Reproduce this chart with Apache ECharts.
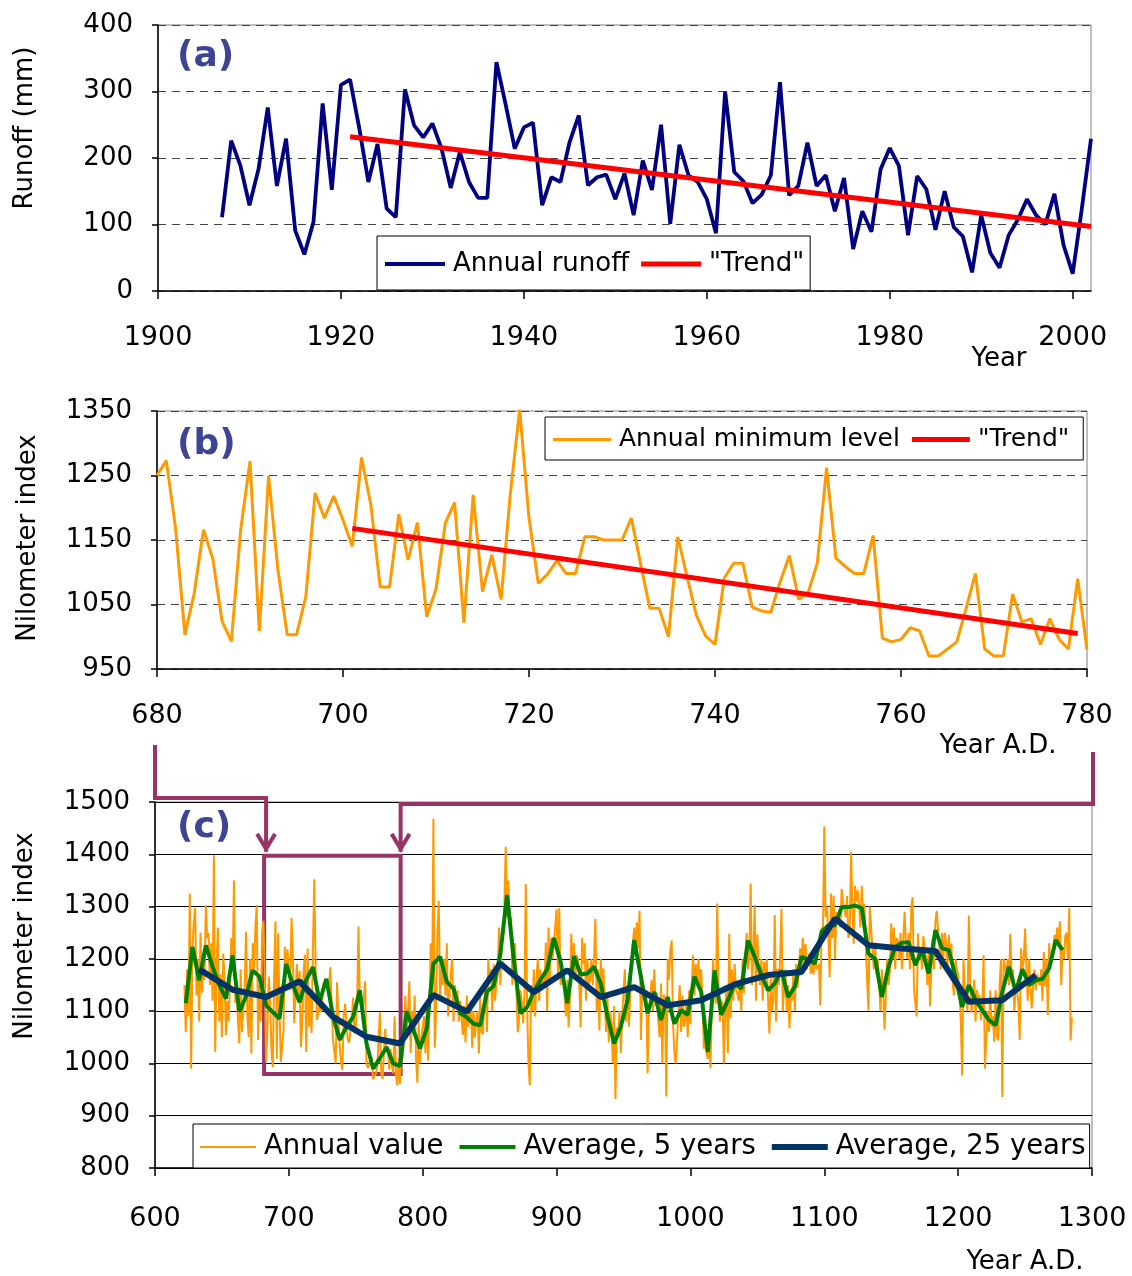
<!DOCTYPE html>
<html><head><meta charset="utf-8">
<script src="https://cdn.jsdelivr.net/npm/echarts@6/dist/echarts.min.js"></script>
<style>html,body{margin:0;padding:0;background:#fff}#c{width:1132px;height:1276px}</style>
</head><body><div id="c"></div>
<script>
// ---------- Panel (a): annual runoff ----------
const runoffStartYear = 1907;
const runoffValues = [111,226,189,129,184,276,158,229,91,55,104,282,152,310,318,245,164,221,124,111,
  303,249,231,252,214,155,209,164,140,140,344,281,214,246,253,129,171,164,224,264,
  159,171,175,138,177,114,196,152,250,101,220,174,164,138,87,300,179,165,132,145,
  174,314,144,158,223,158,174,120,170,63,120,89,183,215,188,84,173,153,92,150,
  96,82,28,114,57,35,84,107,138,114,100,146,69,26,124,229];
const trendAYears = [1921, 2002];
const trendAValues = [232, 97];

// ---------- Panel (b): annual minimum level 680-780 ----------
const niloStartYear = 680;
const niloValues = [1250,1273,1168,1003,1067,1166,1121,1024,993,1166,1272,
  1009,1249,1104,1003,1003,1062,1223,1184,1218,1181,
  1140,1278,1204,1077,1077,1190,1119,1177,1031,1074,
  1176,1208,1022,1220,1070,1127,1058,1223,1352,1184,
  1083,1097,1118,1098,1098,1155,1155,1150,1150,1150,
  1184,1113,1044,1044,1000,1155,1093,1033,1001,988,
  1091,1114,1114,1046,1040,1038,1085,1126,1058,1068,
  1114,1262,1122,1109,1098,1098,1157,998,992,996,
  1014,1009,970,970,981,992,1044,1098,981,970,
  970,1066,1023,1028,988,1028,996,981,1090,980];
const trendBYears = [701, 779];
const trendBValues = [1168, 1005];

// ---------- Panel (c): 622-1285 ----------
const annualStartYear = 622;
const annualValues = [
  1150,1060,1180,1090,1325,990,1220,1270,1297,
  1130,1200,1080,1250,1135,1180,1160,1302,1240,1250,
  1150,1230,1120,1398,1022,1190,1260,1080,1170,1050,
  1210,1160,1054,1120,1080,1150,1240,1180,1350,1115,
  1140,1080,1038,1180,1060,1100,1150,1252,1090,1050,
  1200,1019,1230,1180,1260,1303,1045,1150,1080,1250,
  1273,1168,1003,1067,1166,1121,1024,993,1166,1272,
  1009,1249,1104,1003,1003,1062,1223,1184,1218,1181,
  1140,1278,1204,1077,1077,1190,1119,1177,1031,1074,
  1176,1208,1022,1220,1070,1127,1058,1223,1352,1184,
  1083,1097,1118,1098,1098,1155,1155,1150,1150,1150,
  1184,1113,1044,1044,1000,1155,1093,1033,1001,988,
  1091,1114,1114,1046,1040,1038,1085,1126,1058,1068,
  1114,1262,1122,1109,1098,1098,1157,998,992,996,
  1014,1009,970,970,981,992,1044,1098,981,970,
  970,1066,1023,1028,988,1028,996,981,1090,980,
  958,1010,960,1040,1010,1060,1130,1050,1100,1157,
  1020,1100,1060,1130,1010,963,1080,1000,1050,1050,
  1090,1020,1120,1005,1100,1230,1120,1468,1030,1100,
  1250,1311,1120,1180,1150,1200,1130,1230,1090,1130,
  1170,1200,1080,1150,1115,1140,1080,1120,1086,1054,
  1110,1040,1130,1070,1090,1120,1030,1100,1050,1080,
  1100,1019,1130,1060,1056,1120,1150,1060,1200,1155,
  1180,1100,1190,1120,1150,1170,1260,1150,1230,1240,
  1300,1414,1280,1350,1266,1280,1150,1200,1230,1140,
  1060,1083,1140,1120,1077,1130,1343,1110,1000,958,
  1150,1100,1180,1090,1165,1200,1120,1180,1140,1160,
  1150,1231,1100,1260,1160,1240,1200,1230,1230,1295,
  1170,1297,1150,1190,1168,1130,1090,1160,1069,1126,
  1248,1180,1230,1160,1207,1200,1150,1069,1240,1191,
  1230,1120,1200,1150,1160,1200,1150,1200,1276,1099,
  1180,1063,1200,1140,1182,1120,1060,1130,1040,1100,
  1080,1000,1110,932,1068,1050,1100,1020,1090,1090,
  1180,1080,1150,1070,1125,1200,1230,1260,1220,1270,
  1220,1292,1045,1150,1123,1130,1140,981,1100,1129,
  1160,1100,1180,1110,1135,1080,1050,1153,1000,1132,
  1120,937,1200,1160,1218,1235,1080,1020,1000,1045,
  1100,1150,1060,1130,1070,1080,1120,1050,1140,1075,
  1150,1207,1130,1190,1153,1200,1150,1180,1127,1028,
  1050,1020,1009,1040,991,1130,1200,1140,1114,1306,
  1150,1080,1120,1115,1000,1100,1150,1020,1248,1087,
  1180,1120,1190,1140,1135,1120,1160,1100,1200,1135,
  1200,1250,1180,1200,1344,1150,1200,1303,1120,1247,
  1180,1150,1200,1120,1195,1160,1200,1120,1057,1163,
  1100,1120,1284,1080,1181,1150,1200,1296,1100,1144,
  1180,1100,1150,1067,1138,1120,1180,1100,1190,1145,
  1180,1220,1190,1240,1190,1229,1180,1200,1210,1171,
  1200,1170,1220,1180,1185,1190,1111,1260,1250,1453,
  1280,1300,1250,1165,1325,1240,1321,1200,1290,1269,
  1280,1260,1334,1310,1311,1280,1320,1240,1250,1405,
  1300,1229,1340,1310,1331,1300,1260,1340,1280,1305,
  1230,1160,1101,1300,1259,1220,1180,1230,1170,1200,
  1150,1100,1180,1140,1065,1130,1200,1150,1177,1268,
  1200,1260,1180,1240,1235,1200,1250,1180,1235,1290,
  1230,1200,1250,1180,1300,1318,1143,1140,1090,1249,
  1200,1220,1180,1243,1242,1200,1150,1220,1110,1180,
  1240,1180,1270,1292,1293,1220,1180,1250,1200,1250,
  1230,1180,1246,1200,1229,1150,1130,1200,1180,1170,
  1140,1080,977,1200,1143,1120,1100,1283,1150,1097,
  1100,1160,1080,1140,1125,1130,1083,1100,1207,990,
  1045,1100,1060,1140,1070,1090,1041,1140,1050,1044,
  1150,1200,936,1200,1200,1170,1200,1150,1248,1157,
  1180,1100,1150,1140,1115,1045,1220,1180,1197,1258,
  1180,1120,1200,1145,1105,1150,1180,1140,1170,1155,
  1150,1180,1120,1213,1147,1200,1092,1230,1190,1198,
  1220,1246,1230,1260,1224,1272,1150,1220,1200,1243,
  1250,1200,1297,1044,1088];
const avg5StartYear = 623, avg5Step = 5;
const avg5Values = [1115,1223,1159,1226,1185,1150,1124,1207,1099,1128,
  1178,1166,1111,1098,1086,1190,1150,1117,1160,1184,
  1118,1162,1090,1045,1070,1089,1140,1038,990,1010,
  1031,1000,995,1100,1064,1029,1067,1191,1204,1156,
  1143,1096,1088,1076,1073,1137,1148,1210,1322,1200,
  1096,1108,1137,1160,1180,1240,1195,1115,1205,1170,
  1172,1185,1153,1090,1038,1070,1121,1236,1166,1096,
  1137,1083,1127,1076,1102,1093,1166,1137,1022,1178,
  1093,1121,1153,1143,1235,1204,1169,1140,1153,1178,
  1127,1147,1204,1198,1191,1252,1264,1264,1299,1299,
  1302,1297,1210,1200,1127,1185,1223,1231,1232,1188,
  1217,1172,1255,1220,1217,1166,1108,1150,1121,1102,
  1083,1073,1137,1185,1137,1180,1150,1159,1162,1182,
  1236,1217];
const avg25StartYear = 633, avg25Step = 25;
const avg25Values = [1180,1141,1127,1157,1089,1051,1038,1131,1099,1191,
  1136,1178,1127,1146,1111,1121,1151,1169,1175,1277,
  1226,1220,1215,1118,1121,1169];
const boxYears = [681.5, 783.5];
const boxLevels = [1397, 980];

// ---------- helpers ----------
const pairs = (start, step, vals) => vals.map((v, i) => [start + i * step, v]);
const zip = (xs, ys) => xs.map((x, i) => [x, ys[i]]);

const FONT = 'DejaVu Sans';
const lab = {fontFamily: FONT, fontSize: 26, color: '#000', formatter: v => String(v)};
const PURPLE = '#993366';

function xAx(gi, min, max, itv, margin) {
  return {type: 'value', gridIndex: gi, min, max, interval: itv,
    axisLine: {show: true, onZero: false, lineStyle: {color: '#000', width: 1.5}},
    axisTick: {show: true, length: 8, lineStyle: {color: '#000', width: 1.5}},
    axisLabel: Object.assign({margin: margin, showMaxLabel: (max % itv === 0)}, lab, {fontSize: 27}),
    splitLine: {show: false}};
}
function yAx(gi, min, max, itv, dashed, splitColor) {
  return {type: 'value', gridIndex: gi, min, max, interval: itv,
    axisLine: {show: true, lineStyle: {color: '#000', width: 1.5}},
    axisTick: {show: true, length: 6, lineStyle: {color: '#000', width: 1.5}},
    axisLabel: Object.assign({margin: 25}, lab),
    splitLine: {show: true, lineStyle: {color: splitColor, width: 1.2, type: dashed ? [8, 6] : 'solid'}}};
}

// legend icon: a bar of thickness h centred in a w x 14 box
const bar = (w, h) => 'path://M0,0 M' + w + ',14 M0,' + (7 - h / 2) + ' h' + w + ' v' + h + ' h-' + w + ' Z';

const chart = echarts.init(document.getElementById('c'), null, {renderer: 'canvas'});
function legendOf(left, top, padding, gap, itemWidth, fontSize, data) {
  return {orient: 'horizontal', left, top, padding, itemGap: gap, itemWidth, itemHeight: 14,
    backgroundColor: '#fff', borderColor: '#000', borderWidth: 1, selectedMode: false,
    itemStyle: {borderWidth: 0},
    textStyle: {fontFamily: FONT, fontSize, color: '#000', padding: [0, 0, 0, 3]}, data};
}
const option = {
  animation: false,
  backgroundColor: '#fff',
  grid: [
    {left: 158, width: 933, top: 25, height: 266, show: true, borderColor: '#808080', borderWidth: 1},
    {left: 157, width: 930, top: 411, height: 258, show: true, borderColor: '#808080', borderWidth: 1},
    {left: 155, width: 937, top: 802, height: 366, show: true, borderColor: '#808080', borderWidth: 1}
  ],
  xAxis: [xAx(0, 1900, 2002, 20, 33), xAx(1, 680, 780, 20, 33), xAx(2, 600, 1300, 100, 37)],
  yAxis: [yAx(0, 0, 400, 100, true, '#444'), yAx(1, 950, 1350, 100, true, '#444'), yAx(2, 800, 1500, 100, false, '#000')],
  legend: [
    legendOf(377, 236, [15, 6, 13, 8], 12, 60, 26,
      [{name: 'Annual runoff', icon: bar(60, 3.8)}, {name: '"Trend"', icon: bar(60, 5)}]),
    legendOf(545, 417, [10, 6, 8, 8], 12, 58, 25,
      [{name: 'Annual minimum level', icon: bar(58, 3)}, {name: '"Trend" ', icon: bar(58, 5)}]),
    legendOf(193, 1124, [9, 4, 7, 7], 16, 56, 27.5,
      [{name: 'Annual value', icon: bar(56, 2)}, {name: 'Average, 5 years', icon: bar(56, 4)},
       {name: 'Average, 25 years', icon: bar(56, 6)}])
  ],
  series: [
    {name: 'Annual runoff', type: 'line', xAxisIndex: 0, yAxisIndex: 0, showSymbol: false, symbol: 'none',
      data: pairs(runoffStartYear, 1, runoffValues), lineStyle: {color: '#000080', width: 3.8}, itemStyle: {color: '#000080'}, z: 3},
    {name: '"Trend"', type: 'line', xAxisIndex: 0, yAxisIndex: 0, showSymbol: false, symbol: 'none',
      data: zip(trendAYears, trendAValues), lineStyle: {color: '#ff0000', width: 5}, itemStyle: {color: '#ff0000'}, z: 4},
    {name: 'Annual minimum level', type: 'line', xAxisIndex: 1, yAxisIndex: 1, showSymbol: false, symbol: 'none',
      data: pairs(niloStartYear, 1, niloValues), lineStyle: {color: '#ff9900', width: 3}, itemStyle: {color: '#ff9900'}, z: 3},
    {name: '"Trend" ', type: 'line', xAxisIndex: 1, yAxisIndex: 1, showSymbol: false, symbol: 'none',
      data: zip(trendBYears, trendBValues), lineStyle: {color: '#ff0000', width: 5}, itemStyle: {color: '#ff0000'}, z: 4},
    {name: 'Annual value', type: 'line', xAxisIndex: 2, yAxisIndex: 2, showSymbol: false, symbol: 'none',
      data: pairs(annualStartYear, 1, annualValues), lineStyle: {color: '#ff9900', width: 2}, itemStyle: {color: '#ff9900'}, z: 3,
      markArea: {silent: true, itemStyle: {color: 'rgba(0,0,0,0)', borderColor: PURPLE, borderWidth: 4},
        data: [[{coord: [boxYears[0], boxLevels[0]]}, {coord: [boxYears[1], boxLevels[1]]}]]}},
    {name: 'Average, 5 years', type: 'line', xAxisIndex: 2, yAxisIndex: 2, showSymbol: false, symbol: 'none',
      data: pairs(avg5StartYear, avg5Step, avg5Values), lineStyle: {color: '#008000', width: 4}, itemStyle: {color: '#008000'}, z: 4},
    {name: 'Average, 25 years', type: 'line', xAxisIndex: 2, yAxisIndex: 2, showSymbol: false, symbol: 'none',
      data: pairs(avg25StartYear, avg25Step, avg25Values), lineStyle: {color: '#003366', width: 6}, itemStyle: {color: '#003366'}, z: 5}
  ]
};
chart.setOption(option);

// annotations: titles, panel letters, connectors
const px = (gi, x, y) => chart.convertToPixel({xAxisIndex: gi, yAxisIndex: gi}, [x, y]);
const tl = px(2, boxYears[0], boxLevels[0]);
const tr = px(2, boxYears[1], boxLevels[0]);
const cLeft = px(2, 600, 1500)[0];
const cRight = px(2, 1300, 1500)[0];
const arrow = (p) => ({type: 'polyline', shape: {points: [[p[0] - 9, p[1] - 18], [p[0], p[1] - 3], [p[0] + 9, p[1] - 18]]},
  style: {stroke: PURPLE, lineWidth: 4, fill: null}, z: 100});
const txt = (x, y, s, opts) => Object.assign({type: 'text', x, y, z: 100,
  style: Object.assign({text: s, font: '26px "DejaVu Sans"', fill: '#000', textAlign: 'center', textVerticalAlign: 'middle'}, opts || {})});
const rtxt = (x, y, s) => ({type: 'text', x, y, rotation: Math.PI / 2, z: 100,
  style: {text: s, font: '26px "DejaVu Sans"', fill: '#000', textAlign: 'center', textVerticalAlign: 'middle'}});
const letter = (x, y, s) => txt(x, y, s, {font: 'bold 36px "DejaVu Sans"', fill: '#3d4494', textAlign: 'left'});

chart.setOption({graphic: [
  rtxt(25, 128, 'Runoff (mm)'),
  rtxt(28, 538, 'Nilometer index'),
  rtxt(25, 936, 'Nilometer index'),
  txt(999, 359, 'Year'),
  txt(998, 746, 'Year A.D.'),
  txt(1025, 1262, 'Year A.D.'),
  letter(177, 57, '(a)'),
  letter(177, 445, '(b)'),
  letter(177, 828, '(c)'),
  {type: 'polyline', shape: {points: [[cLeft, 745], [cLeft, 798], [tl[0] + 2, 798], [tl[0] + 2, tl[1] - 4]]},
    style: {stroke: PURPLE, lineWidth: 4, fill: null}, z: 100},
  arrow([tl[0] + 2, tl[1] - 4]),
  {type: 'polyline', shape: {points: [[cRight + 1, 752], [cRight + 1, 804], [tr[0], 804], [tr[0], tr[1] - 4]]},
    style: {stroke: PURPLE, lineWidth: 4, fill: null}, z: 100},
  arrow([tr[0], tr[1] - 4])
]});
</script>
</body></html>
